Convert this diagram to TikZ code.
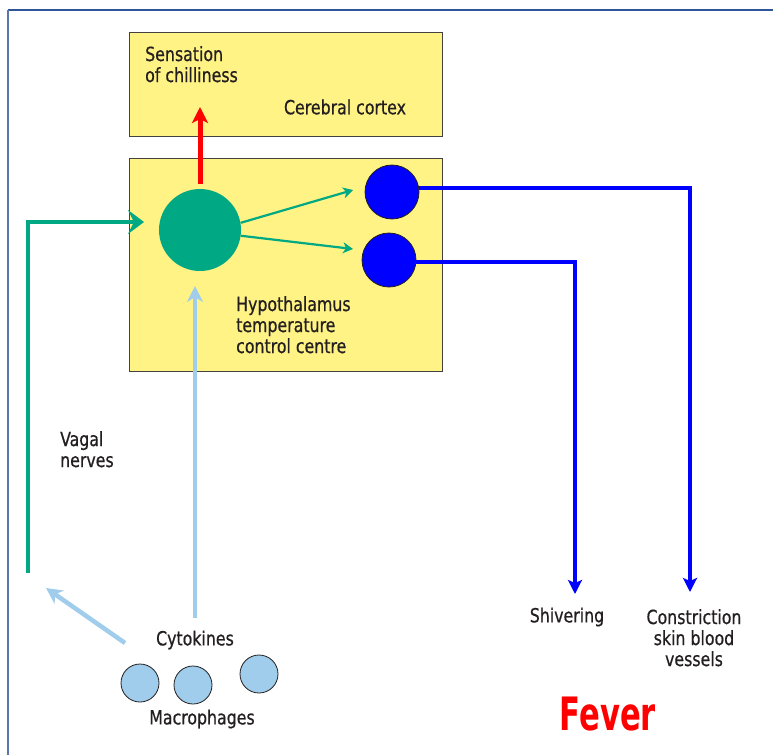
\documentclass[tikz,border=0pt]{standalone}
\usepackage{fontspec}
\setmainfont{DejaVu Sans Condensed}
\newfontfamily\lblfont{DejaVu Sans Condensed}[FakeStretch=0.9,FakeBold=0.6]
\newfontfamily\feverfont{DejaVu Sans Condensed}[FakeStretch=0.74]
\usetikzlibrary{arrows.meta}
\definecolor{boxyellow}{HTML}{FFF385}
\definecolor{nervegreen}{HTML}{00A884}
\definecolor{cellblue}{HTML}{0000FF}
\definecolor{cytoblue}{HTML}{A0CDEB}
\definecolor{framecol}{HTML}{2F5597}
\definecolor{txt}{HTML}{231F20}
\tikzset{
  region/.style={draw=txt!85, line width=1pt, fill=boxyellow},
  lbl/.style={text=txt, font=\lblfont\fontsize{19.5}{21}\selectfont, inner sep=0pt, align=left},
  lblc/.style={text=txt, font=\lblfont\fontsize{19.5}{21}\selectfont, inner sep=0pt, align=center},
  bluecell/.style={circle, draw=txt, line width=0.8pt, fill=cellblue, minimum size=54pt, inner sep=0pt},
  macro/.style={circle, draw=txt, line width=0.8pt, fill=cytoblue, minimum size=38pt, inner sep=0pt},
  garrow/.style={draw=nervegreen, line width=2.2pt, -{Stealth[length=10pt,width=11pt,inset=3pt]}},
  vagal/.style={draw=nervegreen, line width=4pt, -{Stealth[length=16pt,width=24pt,inset=6pt]}},
  barrow/.style={draw=cellblue, line width=4.5pt, -{Stealth[length=14pt,width=14pt,inset=3pt]}},
  carrow/.style={draw=cytoblue, line width=4.5pt, -{Stealth[length=16pt,width=16pt,inset=5pt]}},
}
\begin{document}
\begin{tikzpicture}[x=1pt,y=-1pt]
\useasboundingbox (0,0) rectangle (773,755);
\fill[white] (0,0) rectangle (773,755);
% frame
\draw[framecol, line width=2pt] (8,10) -- (773,10);
\draw[framecol!80, line width=1.5pt] (8,10) -- (8,755);
% boxes
\node[region, minimum width=313pt, minimum height=104pt, inner sep=0pt] (cortex) at (285.5,84) {};
\node[region, minimum width=313pt, minimum height=213pt, inner sep=0pt] (hypo) at (285.5,264.5) {};
% cells
\node[circle, fill=nervegreen, minimum size=82pt, inner sep=0pt] (centre) at (200,230) {};
\node[bluecell] (b1) at (392,192) {};
\node[bluecell] (b2) at (389,260) {};
\node[macro] (m1) at (140,683) {};
\node[macro] (m2) at (193,685) {};
\node[macro] (m3) at (259,674) {};
% texts
\node[lbl, anchor=north west] (sens) at (145,46) {Sensation\\of chilliness};
\node[lbl, anchor=center] (cc) at (345,107) {Cerebral cortex};
\node[lbl, anchor=north west] (hlab) at (236,296) {Hypothalamus\\temperature\\control centre};
\node[lbl, anchor=north west] (vag) at (60,431) {Vagal\\nerves};
\node[lblc] (cyto) at (195,640) {Cytokines};
\node[lblc] (mac) at (202,719) {Macrophages};
\node[lblc] (shiv) at (567,617) {Shivering};
\node[lblc, anchor=north] (constr) at (694,609) {Constriction\\skin blood\\vessels};
\node[text=red, font=\feverfont\fontsize{46}{48}\selectfont\bfseries, inner sep=0pt] (fever) at (608,714) {Fever};
% coordinates
\coordinate (redtip) at (200,107);
\coordinate (vbot) at (28,573);
\coordinate (vcorner) at (28,222);
\coordinate (vtip) at (144,222);
\coordinate (cytotip) at (195,286);
\coordinate (cytostart) at (195,618);
\coordinate (sidetip) at (46,588);
\coordinate (sidestart) at (125,643);
\coordinate (g1tip) at (353,190);
\coordinate (g2tip) at (353,249);
\coordinate (c1) at (690,188);
\coordinate (c1tip) at (690,592);
\coordinate (c2) at (575,262);
\coordinate (c2tip) at (575,594);
% connectors
\draw[draw=red, line width=5pt, -{Stealth[length=16pt,width=16pt,inset=4pt]}] (centre.north) ++(0,-5) -- (redtip);
\draw[vagal] (vbot) -- (vcorner) -- (vtip);
\draw[carrow] (cytostart) -- (cytotip);
\draw[carrow] (sidestart) -- (sidetip);
\draw[garrow] (centre.10) -- (g1tip);
\draw[garrow] (centre.-8) -- (g2tip);
\draw[barrow] (b1.east |- c1) -- (c1) -- (c1tip);
\draw[barrow] (b2.east |- c2) -- (c2) -- (c2tip);
\end{tikzpicture}
\end{document}
